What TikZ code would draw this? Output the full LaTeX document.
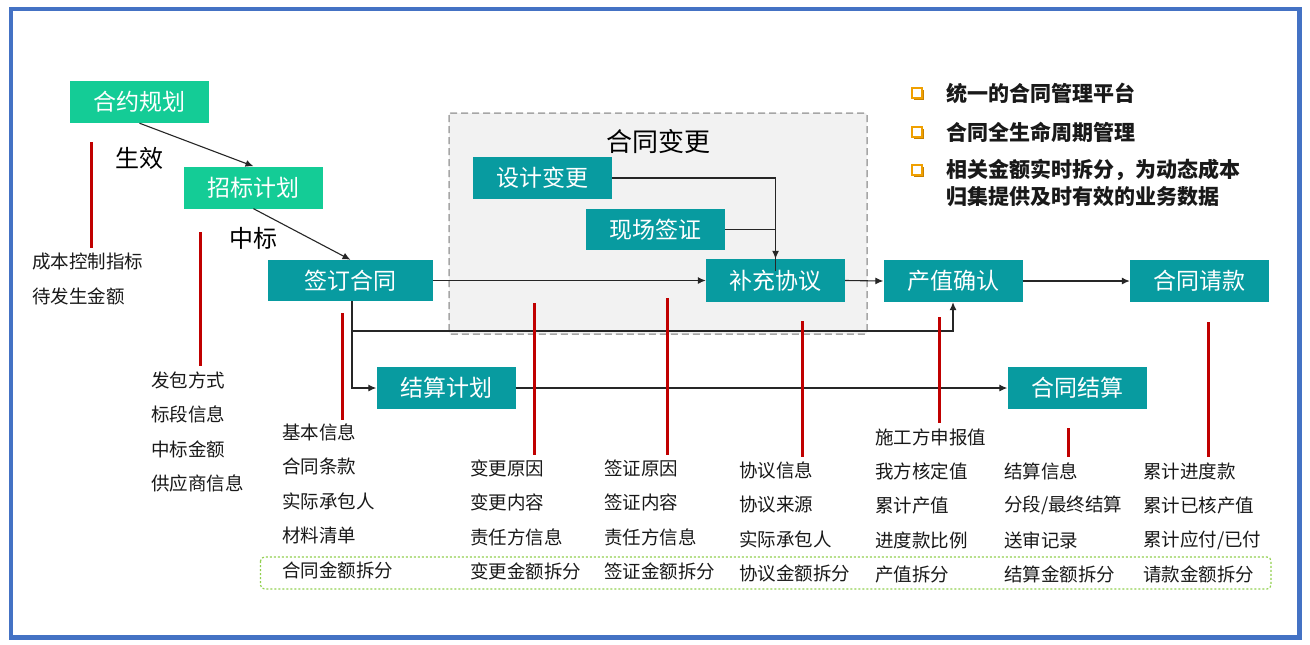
\documentclass[tikz,border=0pt]{standalone}
\usepackage{fontspec}
\setmainfont{Noto Sans CJK SC}
\usetikzlibrary{arrows.meta}
\definecolor{bordblue}{RGB}{68,114,196}
\definecolor{lgreen}{RGB}{20,204,150}
\definecolor{tealbox}{RGB}{8,155,160}
\definecolor{redl}{RGB}{192,0,0}
\definecolor{grayfill}{RGB}{242,242,242}
\definecolor{dashgray}{RGB}{166,166,166}
\definecolor{dotgreen}{RGB}{146,208,80}
\definecolor{bulorange}{RGB}{240,160,0}
\definecolor{bulshadow}{RGB}{200,130,0}
\begin{document}
\begin{tikzpicture}[x=1pt,y=-1pt,
  box/.style={fill=tealbox, text=white, minimum width=139pt, minimum height=42pt, inner sep=0pt, font=\fontsize{23}{23}\selectfont},
  gbox/.style={box, fill=lgreen},
  conn/.style={draw=black!85, line width=1.1pt, -{Latex[length=8pt,width=7pt]}},
  plainline/.style={draw=black!85, line width=1.1pt},
  redbar/.style={draw=redl, line width=3pt},
  item/.style={anchor=west, inner sep=0pt, font=\fontsize{18.5}{18.5}\selectfont, text=black!90},
  lab/.style={font=\fontsize{24}{24}\selectfont, inner sep=0pt},
  bul/.style={font=\bfseries\fontsize{21}{21}\selectfont, anchor=west, inner sep=0pt, text=black!90},
  bsq/.style={draw=bulorange, fill=white, line width=1.4pt, minimum size=10pt, inner sep=0pt}]

\useasboundingbox (0,0) rectangle (1310,645);
\fill[white] (0,0) rectangle (1310,645);
\draw[bordblue, line width=4.5pt] (11,9) rectangle (1299.5,637.5);

% change group background
\draw[dashgray, fill=grayfill, dash pattern=on 7pt off 4pt, line width=1.5pt, rounded corners=2pt] (449,113) rectangle (867,334);
\node[font=\fontsize{26}{26}\selectfont, inner sep=0pt] (chgl) at (658,142) {合同变更};

% bottom dotted green box
\draw[dotgreen, dash pattern=on 2pt off 2pt, line width=1.2pt, rounded corners=4pt] (260.5,557) rectangle (1271,589);

% boxes
\node[gbox] (hy) at (139.5,102) {合约规划};
\node[gbox] (zb) at (253.5,187.5) {招标计划};
\node[box, minimum width=165pt, minimum height=41pt] (qd) at (350.5,280.5) {签订合同};
\node[box] (sj) at (542.5,178) {设计变更};
\node[box, minimum height=41pt] (xc) at (655.5,229.5) {现场签证};
\node[box, minimum height=43pt] (bc) at (775.5,280.5) {补充协议};
\node[box] (cz) at (953,281) {产值确认};
\node[box] (qk) at (1199.5,281) {合同请款};
\node[box] (js) at (446,388) {结算计划};
\node[box] (ht) at (1077,388) {合同结算};

% labels
\node[lab] (sx) at (139,158) {生效};
\node[lab] (zbl) at (253.5,238) {中标};

% connectors
\draw[conn] (hy.south) -- (zb.north);
\draw[conn] (zb.south) -- (qd.north);
\draw[conn] (sj.east) -| (bc.north);
\draw[plainline] (xc.east) -| ([yshift=-12pt]bc.north);
\draw[conn] (qd.east) -- (bc.west);
\draw[conn] (bc.east) -- (cz.west);
\draw[conn] (cz.east) -- (qk.west);
\coordinate (qdb) at (352,301);
\coordinate (br) at (352,331);
\draw[conn] (qdb) |- (js.west);
\draw[conn] (br) -| (cz.south);
\draw[conn] (js.east) -- (ht.west);

% red bars
\draw[redbar] (91,142) -- (91,248);
\draw[redbar] (200,232) -- (200,366);
\draw[redbar] (342,313) -- (342,420);
\draw[redbar] (534,303) -- (534,455);
\draw[redbar] (667,298) -- (667,455);
\draw[redbar] (802,321) -- (802,457);
\draw[redbar] (939,317) -- (939,423);
\draw[redbar] (1068,428) -- (1068,457);
\draw[redbar] (1208,322) -- (1208,457);

% text lists
\foreach \t [count=\i] in {成本控制指标,待发生金额}
  \node[item] (p\i) at (32,{262+34*(\i-1)}) {\t};
\foreach \t [count=\i] in {发包方式,标段信息,中标金额,供应商信息}
  \node[item] (z\i) at (151,{380+34.5*(\i-1)}) {\t};
\foreach \t [count=\i] in {基本信息,合同条款,实际承包人,材料清单,合同金额拆分}
  \node[item] (a\i) at (282,{432+34.5*(\i-1)}) {\t};
\foreach \t [count=\i] in {变更原因,变更内容,责任方信息,变更金额拆分}
  \node[item] (b\i) at (470,{468+34.5*(\i-1)}) {\t};
\foreach \t [count=\i] in {签证原因,签证内容,责任方信息,签证金额拆分}
  \node[item] (c\i) at (604,{468+34.5*(\i-1)}) {\t};
\foreach \t [count=\i] in {协议信息,协议来源,实际承包人,协议金额拆分}
  \node[item] (d\i) at (739,{470+34.5*(\i-1)}) {\t};
\foreach \t [count=\i] in {施工方申报值,我方核定值,累计产值,进度款比例,产值拆分}
  \node[item] (e\i) at (875,{437+34.5*(\i-1)}) {\t};
\foreach \t [count=\i] in {结算信息,分段/最终结算,送审记录,结算金额拆分}
  \node[item] (f\i) at (1004,{471+34.5*(\i-1)}) {\t};
\foreach \t [count=\i] in {累计进度款,累计已核产值,累计应付/已付,请款金额拆分}
  \node[item] (g\i) at (1143,{471+34.5*(\i-1)}) {\t};

% bullets
\foreach \y [count=\i] in {93,132,170}{
  \fill[bulshadow] (913.5,\y-3.5) rectangle (923.5,\y+6.5);
  \node[bsq] (q\i) at (917,\y) {};
}
\node[bul] (t1) at (946,93) {统一的合同管理平台};
\node[bul] (t2) at (946,132) {合同全生命周期管理};
\node[bul] (t3) at (946,170) {相关金额实时拆分，为动态成本};
\node[bul] (t4) at (946,197) {归集提供及时有效的业务数据};
\end{tikzpicture}
\end{document}
